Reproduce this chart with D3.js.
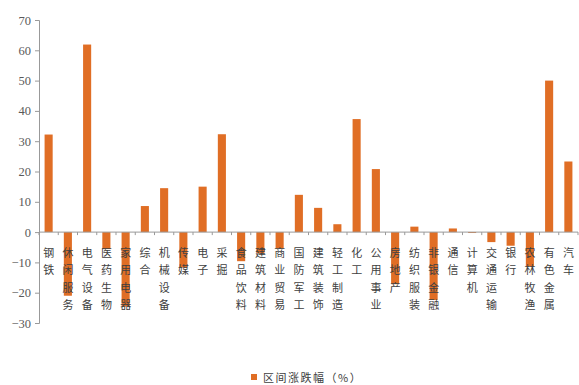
<!DOCTYPE html>
<html>
<head>
<meta charset="utf-8">
<script src="https://cdn.jsdelivr.net/npm/d3@7"></script>
<style>
body { margin: 0; background: #fff; }
</style>
</head>
<body>
<script>
var w = 579;
var h = 385;

// Data
var categories = ["钢铁", "休闲服务", "电气设备", "医药生物", "家用电器", "综合", "机械设备", "传媒",
    "电子", "采掘", "食品饮料", "建筑材料", "商业贸易", "国防军工", "建筑装饰", "轻工制造",
    "化工", "公用事业", "房地产", "纺织服装", "非银金融", "通信", "计算机", "交通运输",
    "银行", "农林牧渔", "有色金属", "汽车"];
var values = [32.2, -21.0, 61.9, -5.6, -24.6, 8.6, 14.5, -11.7,
    15.0, 32.3, -9.6, -7.0, -5.4, 12.3, 8.0, 2.6,
    37.3, 20.8, -17.2, 1.8, -22.4, 1.2, -0.3, -3.3,
    -4.5, -11.4, 50.0, 23.3];
var yTicks = [70, 60, 50, 40, 30, 20, 10, 0, -10, -20, -30];
var legendLabel = "区间涨跌幅（%）";

var svg = d3.select("body")
            .append("svg")
            .attr("width", w)
            .attr("height", h);

var left = 39, right = 578;
var xScale = d3.scaleBand()
               .domain(categories)
               .range([left, right])
               .paddingInner(0.58)
               .paddingOuter(0.29);

var yScale = d3.scaleLinear()
               .domain([-30, 70])
               .range([323, 20]);

// bars
svg.selectAll("rect.bar")
   .data(values)
   .enter()
   .append("rect")
   .attr("class", "bar")
   .attr("x", function(d, i) { return xScale(categories[i]); })
   .attr("y", function(d) { return yScale(Math.max(0, d)); })
   .attr("width", xScale.bandwidth())
   .attr("height", function(d) { return Math.abs(yScale(d) - yScale(0)); })
   .attr("fill", "#E06E25");

// y axis
var yAxis = d3.axisLeft(yScale)
              .tickValues(yTicks)
              .tickSize(4)
              .tickPadding(4);
var gy = svg.append("g")
   .attr("transform", "translate(" + left + ",0)")
   .call(yAxis);
gy.select(".domain").attr("stroke", "#999");
gy.selectAll(".tick line").attr("stroke", "#999");
gy.selectAll(".tick text")
  .attr("font-family", "Liberation Serif, serif")
  .attr("font-size", "12.5px")
  .attr("fill", "#595959");

// zero line with tick marks between categories
svg.append("line")
   .attr("x1", left).attr("x2", right)
   .attr("y1", yScale(0)).attr("y2", yScale(0))
   .attr("stroke", "#999");
var step = xScale.step();
var bounds = d3.range(categories.length + 1).map(function(i) { return left + i * (right - left) / categories.length; });
svg.selectAll("line.xt")
   .data(bounds)
   .enter()
   .append("line")
   .attr("class", "xt")
   .attr("x1", function(d) { return d; })
   .attr("x2", function(d) { return d; })
   .attr("y1", yScale(0))
   .attr("y2", yScale(0) + 3)
   .attr("stroke", "#999");

// vertical category labels, one character per line
var labels = svg.selectAll("g.lab")
   .data(categories)
   .enter()
   .append("g")
   .attr("class", "lab")
   .attr("transform", function(d) { return "translate(" + (xScale(d) + xScale.bandwidth() / 2) + ",0)"; });
labels.selectAll("text")
   .data(function(d) { return d.split(""); })
   .enter()
   .append("text")
   .attr("x", 0)
   .attr("y", function(d, i) { return 257 + i * 17.3; })
   .attr("text-anchor", "middle")
   .attr("font-family", "Noto Sans CJK SC, sans-serif")
   .attr("font-size", "11px")
   .attr("fill", "#404040")
   .text(function(d) { return d; });

// legend
svg.append("rect")
   .attr("x", 251).attr("y", 374)
   .attr("width", 6).attr("height", 6)
   .attr("fill", "#E06E25");
svg.append("text")
   .attr("x", 263).attr("y", 382)
   .attr("font-family", "Noto Sans CJK SC, sans-serif")
   .attr("font-size", "11px")
   .attr("letter-spacing", "1.5px")
   .attr("fill", "#404040")
   .text(legendLabel);
</script>
</body>
</html>
